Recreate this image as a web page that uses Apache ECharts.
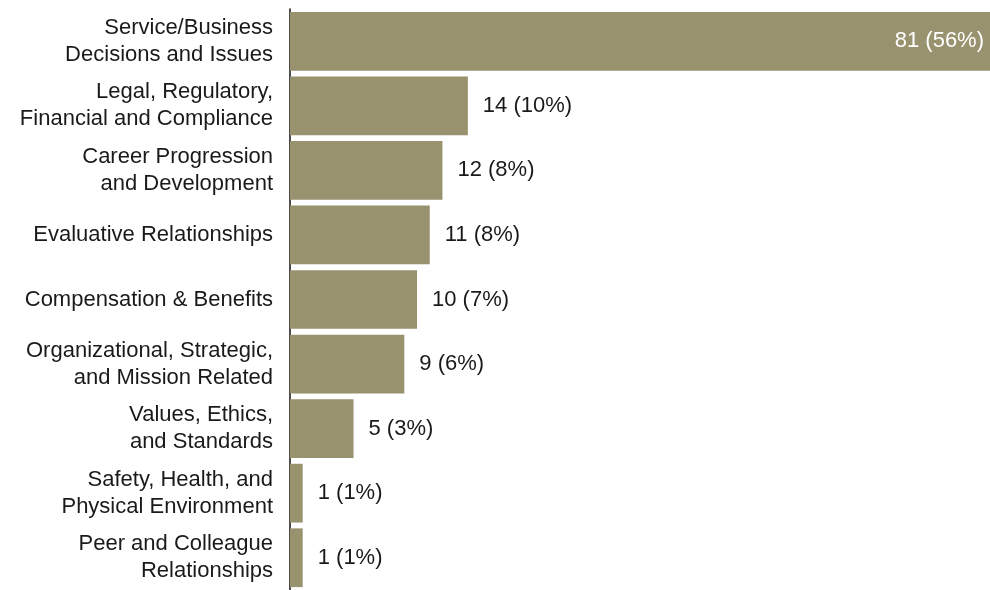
<!DOCTYPE html>
<html>
<head>
<meta charset="utf-8">
<script src="https://cdn.jsdelivr.net/npm/echarts@6/dist/echarts.min.js"></script>
<style>
html,body{margin:0;padding:0;background:#fff;}
#c{width:990px;height:590px;}
</style>
</head>
<body>
<div id="c"></div>
<script>
const categories = [
  'Service/Business\nDecisions and Issues',
  'Legal, Regulatory,\nFinancial and Compliance',
  'Career Progression\nand Development',
  'Evaluative Relationships',
  'Compensation & Benefits',
  'Organizational, Strategic,\nand Mission Related',
  'Values, Ethics,\nand Standards',
  'Safety, Health, and\nPhysical Environment',
  'Peer and Colleague\nRelationships'
];
const counts = [81, 14, 12, 11, 10, 9, 5, 1, 1];
const percents = ['56%', '10%', '8%', '8%', '7%', '6%', '3%', '1%', '1%'];

const chart = echarts.init(document.getElementById('c'), null, {renderer: 'canvas'});
const FONT = '"Liberation Sans", Arial, Helvetica, sans-serif';
const data = counts.map((v, i) => {
  const item = {value: v};
  if (i === 0) {
    item.label = {position: 'insideRight', color: '#ffffff', distance: 6};
  }
  return item;
});
chart.setOption({
  animation: false,
  backgroundColor: '#ffffff',
  grid: {left: 290, right: 0, top: 9, bottom: -7, containLabel: false},
  xAxis: {type: 'value', min: 0, max: 55.1, show: false},
  yAxis: {
    type: 'category',
    inverse: true,
    data: categories,
    axisLine: {show: true, lineStyle: {color: '#111', width: 1.5}},
    axisTick: {show: false},
    splitLine: {show: false},
    axisLabel: {
      color: '#1a1a1a', fontSize: 22, fontFamily: FONT,
      lineHeight: 27, margin: 17, align: 'right'
    }
  },
  series: [{
    type: 'bar',
    data: data,
    clip: true,
    barCategoryGap: '9%',
    itemStyle: {color: '#99926e'},
    label: {
      show: true,
      position: 'right',
      distance: 15,
      color: '#1a1a1a',
      fontSize: 22,
      fontFamily: FONT,
      formatter: p => p.value + ' (' + percents[p.dataIndex] + ')'
    }
  }]
});
</script>
</body>
</html>
